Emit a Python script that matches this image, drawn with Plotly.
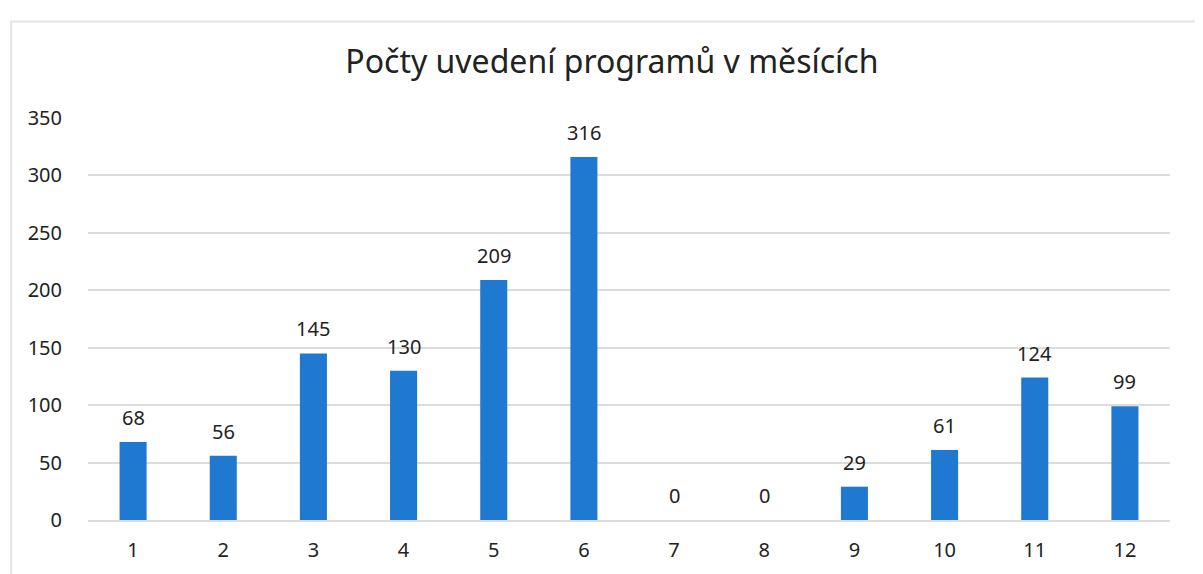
import plotly.graph_objects as go

months = ["1", "2", "3", "4", "5", "6", "7", "8", "9", "10", "11", "12"]
counts = [68, 56, 145, 130, 209, 316, 0, 0, 29, 61, 124, 99]
y_ticks = [0, 50, 100, 150, 200, 250, 300, 350]
title = "Počty uvedení programů v měsících"

FONT = "Noto Sans, Open Sans, sans-serif"
TXT = "#222222"

fig = go.Figure(
    go.Bar(
        x=months,
        y=counts,
        marker=dict(color="#1f79d1", line=dict(width=0)),
        width=0.3,
        cliponaxis=False,
    )
)

# value labels, positioned by category index on the category axis
for i, v in enumerate(counts):
    fig.add_annotation(
        x=i, y=v, text=str(v), showarrow=False,
        yanchor="bottom", yshift=9,
        font=dict(size=20, color=TXT, family=FONT),
    )

fig.update_layout(
    width=1203,
    height=574,
    paper_bgcolor="white",
    plot_bgcolor="white",
    margin=dict(l=80, r=41, t=110, b=62),
    title=dict(
        text=title,
        x=0.502,
        xanchor="center",
        y=0.906,
        yanchor="middle",
        font=dict(size=32, color=TXT, family=FONT),
    ),
    font=dict(family=FONT, color=TXT),
    showlegend=False,
    shapes=[
        dict(
            type="rect", xref="paper", yref="paper",
            x0=-0.071, x1=1.06, y0=-0.3, y1=1.24,
            line=dict(color="#e4e4e4", width=2), fillcolor="rgba(0,0,0,0)",
            layer="below",
        )
    ],
)

fig.update_yaxes(
    range=[0, 350],
    tickvals=y_ticks,
    showgrid=True,
    gridcolor="#dcdcdc",
    gridwidth=1.5,
    zeroline=False,
    showline=False,
    tickfont=dict(size=20, color=TXT),
    ticklabelstandoff=25,
)
fig.update_xaxes(
    type="category",
    range=[-0.5, len(months) - 0.5],
    showline=True,
    linecolor="#dcdcdc",
    linewidth=1.5,
    showgrid=False,
    tickfont=dict(size=20, color=TXT),
    ticklabelstandoff=11,
)

fig.write_html("out.html")
